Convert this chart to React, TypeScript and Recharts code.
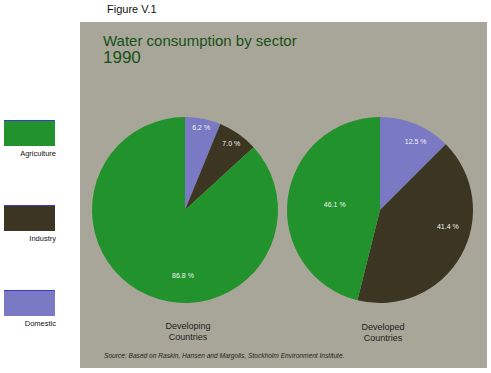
import { PieChart, Pie, Cell } from 'recharts';

const sectors = ['Domestic', 'Industry', 'Agriculture'];
const developing = [6.2, 7.0, 86.8];
const developed = [12.5, 41.4, 46.1];
const legendOrder = ['Agriculture', 'Industry', 'Domestic'];

const colors: Record<string, string> = {
  Agriculture: '#22922c',
  Industry: '#3b3521',
  Domestic: '#7a79c4',
};

const devData = sectors.map((s, i) => ({ name: s, value: developing[i] }));
const dedData = sectors.map((s, i) => ({ name: s, value: developed[i] }));

const RAD = Math.PI / 180;

// per-slice label placement: radius fraction, clockwise angle tweak (deg)
const makeLabel = (place: { r: number; d: number }[]) => (props: any) => {
  const { cx, cy, midAngle, outerRadius, value, index } = props;
  const p = place[index];
  const a = midAngle - p.d;
  const r = outerRadius * p.r;
  const x = cx + r * Math.cos(-a * RAD);
  const y = cy + r * Math.sin(-a * RAD);
  return (
    <text x={x} y={y} fill="#f2f2f2" fontSize={7} fontFamily="Arial, Liberation Sans"
      textAnchor="middle" dominantBaseline="central">
      {value.toFixed(1)} %
    </text>
  );
};

const devLabel = makeLabel([{ r: 0.9, d: 0 }, { r: 0.87, d: 0 }, { r: 0.7, d: -22 }]);
const dedLabel = makeLabel([{ r: 0.83, d: 5 }, { r: 0.75, d: -16 }, { r: 0.49, d: 0 }]);

const font = 'Arial, "Liberation Sans", sans-serif';

export default function App() {
  return (
    <div style={{ position: 'absolute', left: 0, top: 0, width: 491, height: 373, background: '#fff', fontFamily: font }}>
      <div style={{ position: 'absolute', left: 80, top: 22, width: 407, height: 346, background: '#a8a698' }} />
      <div style={{ position: 'absolute', left: 107, top: 3, fontSize: 11, color: '#111' }}>Figure V.1</div>
      <div style={{ position: 'absolute', left: 103, top: 32, fontSize: 15, color: '#17501a', lineHeight: '17px' }}>
        Water consumption by sector<br />
        <span style={{ fontSize: 17 }}>1990</span>
      </div>

      {legendOrder.map((s, i) => (
        <div key={s} style={{ position: 'absolute', left: 4, top: 120 + i * 85, width: 52 }}>
          <div style={{ width: 51, height: 25, background: colors[s], borderTop: '1px solid #3a3ad0' }} />
          <div style={{ fontSize: 7.5, textAlign: 'right', marginTop: 3, color: '#111' }}>{s}</div>
        </div>
      ))}

      <div style={{ position: 'absolute', left: 0, top: 0 }}>
        <PieChart width={491} height={373} margin={{ top: 0, right: 0, bottom: 0, left: 0 }}>
          <Pie data={devData} dataKey="value" nameKey="name" cx={185} cy={210} outerRadius={93}
            startAngle={90} endAngle={-270} stroke="none" label={devLabel} labelLine={false}
            isAnimationActive={false}>
            {devData.map((d) => <Cell key={d.name} fill={colors[d.name]} />)}
          </Pie>
          <Pie data={dedData} dataKey="value" nameKey="name" cx={380} cy={210} outerRadius={93}
            startAngle={90} endAngle={-270} stroke="none" label={dedLabel} labelLine={false}
            isAnimationActive={false}>
            {dedData.map((d) => <Cell key={d.name} fill={colors[d.name]} />)}
          </Pie>
        </PieChart>
      </div>

      <div style={{ position: 'absolute', left: 138, top: 321, width: 100, textAlign: 'center', fontSize: 9, lineHeight: '11px', color: '#222' }}>
        Developing<br />Countries
      </div>
      <div style={{ position: 'absolute', left: 333, top: 322, width: 100, textAlign: 'center', fontSize: 9, lineHeight: '11px', color: '#222' }}>
        Developed<br />Countries
      </div>
      <div style={{ position: 'absolute', left: 104, top: 352, fontSize: 6.6, fontStyle: 'italic', color: '#222' }}>
        Source: Based on Raskin, Hansen and Margolis, Stockholm Environment Institute.
      </div>
    </div>
  );
}
